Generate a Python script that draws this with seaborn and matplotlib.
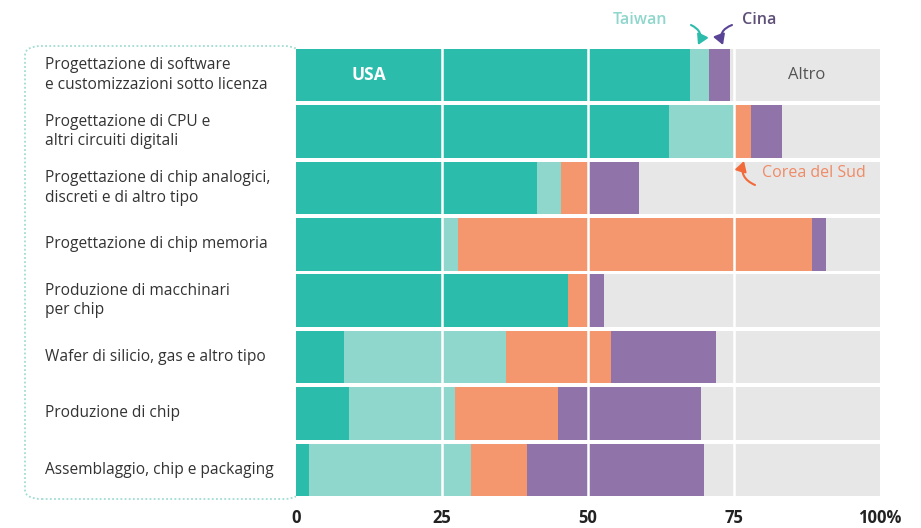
import numpy as np
import pandas as pd
import matplotlib
matplotlib.use("Agg")
import matplotlib.pyplot as plt
import seaborn as sns
from matplotlib.patches import FancyBboxPatch, FancyArrowPatch

categories = [
    "Progettazione di software\ne customizzazioni sotto licenza",
    "Progettazione di CPU e\naltri circuiti digitali",
    "Progettazione di chip analogici,\ndiscreti e di altro tipo",
    "Progettazione di chip memoria",
    "Produzione di macchinari\nper chip",
    "Wafer di silicio, gas e altro tipo",
    "Produzione di chip",
    "Assemblaggio, chip e packaging",
]
usa = [67.5, 63.9, 41.2, 25.0, 46.6, 8.3, 9.1, 2.3]
taiwan = [3.2, 11.3, 4.2, 2.8, 0.0, 27.6, 18.2, 27.7]
korea = [0.0, 2.7, 4.6, 60.5, 3.4, 18.0, 17.6, 9.6]
china = [3.7, 5.3, 8.7, 2.5, 2.7, 18.0, 24.4, 30.2]
altro = [100 - (a + b + c + d) for a, b, c, d in zip(usa, taiwan, korea, china)]
xticks = [0, 25, 50, 75, 100]
xticklabels = ["0", "25", "50", "75", "100%"]

colors = {
    "USA": "#2cbcac",
    "Taiwan": "#8fd6cc",
    "Corea del Sud": "#f5976e",
    "Cina": "#8f73a9",
    "Altro": "#e7e7e7",
}

sns.set_theme(style="white")
plt.rcParams["font.family"] = ["Open Sans", "DejaVu Sans"]

df = pd.DataFrame({"cat": categories, "USA": usa, "Taiwan": taiwan,
                   "Corea del Sud": korea, "Cina": china, "Altro": altro})
order = ["USA", "Taiwan", "Corea del Sud", "Cina", "Altro"]
cum = df[order].cumsum(axis=1)

W, H = 921, 528
fig = plt.figure(figsize=(W / 100, H / 100), dpi=100)
x0, x1, ytop, ybot = 296, 880, 47, 498
ax = fig.add_axes([x0 / W, 1 - ybot / H, (x1 - x0) / W, (ybot - ytop) / H])

for name in reversed(order):
    sns.barplot(x=cum[name], y=df["cat"], order=categories, orient="h",
                color=colors[name], saturation=1, width=0.93,
                errorbar=None, ax=ax, linewidth=0)

ax.set_xlim(0, 100)
ax.set_ylim(len(categories) - 0.5, -0.5)
for v in [25, 50, 75]:
    ax.axvline(v, color="white", lw=1.8, zorder=5)

for s in ax.spines.values():
    s.set_visible(False)
ax.set_ylabel("")
ax.set_xlabel("")
ax.set_yticks([])
ax.set_xticks(xticks)
ax.set_xticklabels(xticklabels, fontsize=12, fontweight="bold", color="#222222")
ax.tick_params(axis="x", length=0, pad=8)


def px(x, y):
    return (x - x0) / (x1 - x0) * 100, (y - ytop) / (ybot - ytop) * len(categories) - 0.5


# category labels
for i, c in enumerate(categories):
    ax.text(-(x0 - 45) / (x1 - x0) * 100, i, c, ha="left", va="center",
            fontsize=11.2, color="#333333", linespacing=1.3, clip_on=False)

# rounded dotted box
box = FancyBboxPatch((25 / W, 1 - 499 / H), (300 - 25) / W, (499 - 46) / H,
                     boxstyle="round,pad=0,rounding_size=0.018",
                     transform=fig.transFigure, fill=False,
                     edgecolor="#9fdcd2", lw=1.3, linestyle=(0, (1, 1.3)), zorder=-1)
fig.patches.append(box)

ax.text(12.5, 0, "USA", ha="center", va="center", color="white",
        fontsize=12.5, fontweight="bold", zorder=6)
ax.text(87.5, 0, "Altro", ha="center", va="center", color="#555555",
        fontsize=12, zorder=6)

tx, ty = px(613, 20)
ax.text(tx, ty, "Taiwan", ha="left", va="center", color="#8fd6cc",
        fontsize=11.5, fontweight="semibold", clip_on=False)
tx, ty = px(742, 20)
ax.text(tx, ty, "Cina", ha="left", va="center", color="#5e4f78",
        fontsize=11.5, fontweight="semibold", clip_on=False)
tx, ty = px(762, 173)
ax.text(tx, ty, "Corea del Sud", ha="left", va="center", color="#f08a66",
        fontsize=11.5, clip_on=False)


def arrow(p0, p1, col, rad):
    a = FancyArrowPatch(px(*p0), px(*p1), connectionstyle=f"arc3,rad={rad}",
                        arrowstyle="-|>,head_length=0.6,head_width=0.35",
                        color=col, lw=1.5, clip_on=False, zorder=7,
                        mutation_scale=10, shrinkA=0, shrinkB=0)
    ax.add_patch(a)


arrow((691, 25), (698, 45), "#2cbcac", -0.5)
arrow((732, 25), (723, 45), "#5a4496", 0.5)
arrow((755, 185), (744, 161), "#f26a3a", -0.45)

fig.savefig("out.png", dpi=100)
